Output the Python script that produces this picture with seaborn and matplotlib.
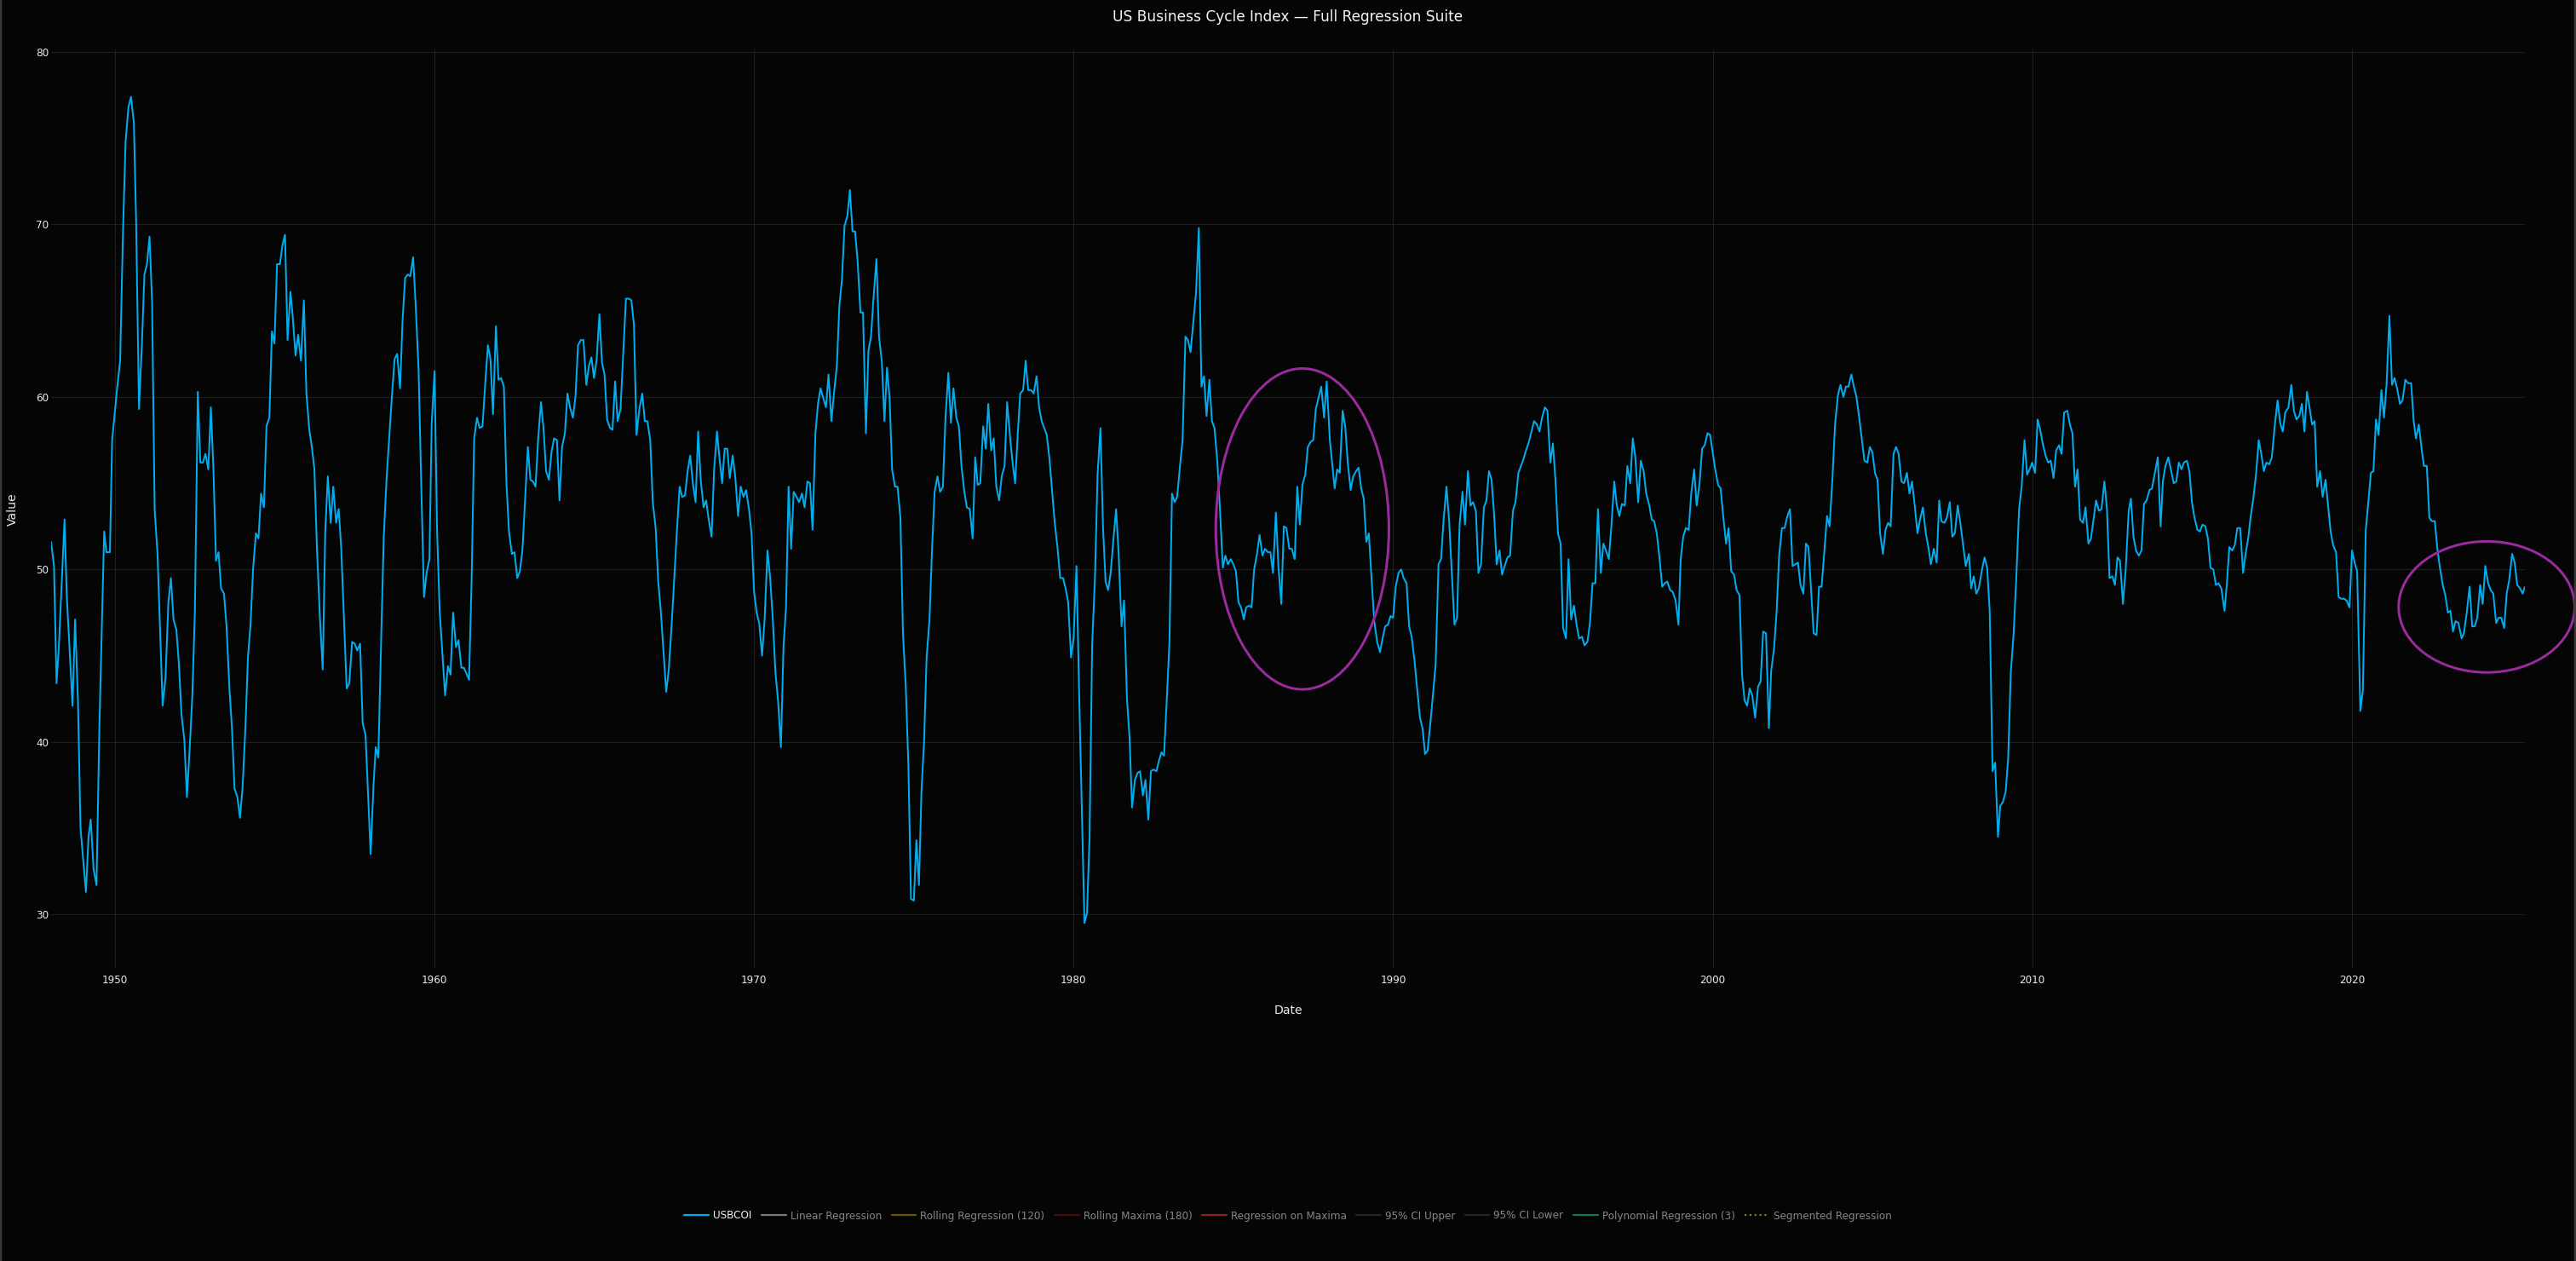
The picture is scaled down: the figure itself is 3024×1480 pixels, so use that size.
import numpy as np
import pandas as pd
import matplotlib
matplotlib.use("Agg")
import matplotlib.pyplot as plt
import matplotlib.dates as mdates
from matplotlib.lines import Line2D
from matplotlib.patches import Ellipse
from matplotlib.ticker import MultipleLocator
import seaborn as sns

# USBCOI monthly series (decimal year, value)
yr_1948 = [1948.00, 1948.09, 1948.17, 1948.24, 1948.42, 1948.49, 1948.67, 1948.75, 1948.84, 1948.92,
           1949.09, 1949.17, 1949.24, 1949.33, 1949.42, 1949.51, 1949.66, 1949.73, 1949.84, 1949.91,
           1950.06, 1950.16, 1950.25, 1950.33, 1950.42, 1950.50, 1950.59, 1950.66, 1950.75, 1950.84,
           1950.92, 1951.00, 1951.08, 1951.16, 1951.24, 1951.33, 1951.49, 1951.58, 1951.67, 1951.75,
           1951.83, 1951.92, 1952.00, 1952.08, 1952.17, 1952.25, 1952.33, 1952.42, 1952.50, 1952.59,
           1952.67, 1952.75, 1952.83, 1952.92, 1953.00, 1953.08, 1953.16, 1953.24, 1953.32, 1953.41,
           1953.49, 1953.58, 1953.66, 1953.74, 1953.83, 1953.91, 1953.99, 1954.08, 1954.16, 1954.24,
           1954.32, 1954.41, 1954.49, 1954.57, 1954.66, 1954.74, 1954.83, 1954.91, 1954.99, 1955.07,
           1955.16, 1955.24, 1955.32, 1955.40, 1955.49, 1955.56, 1955.65, 1955.73, 1955.82, 1955.91,
           1955.99, 1956.08, 1956.16, 1956.24, 1956.32, 1956.41, 1956.50, 1956.58, 1956.66, 1956.75,
           1956.83, 1956.92, 1957.00, 1957.08, 1957.25, 1957.33, 1957.42, 1957.50, 1957.58, 1957.67,
           1957.75, 1957.84]
val_1948 = [51.6, 50.2, 43.4, 45.4, 52.9, 48.5, 42.1, 47.1, 42.4, 35.0,
            31.3, 34.5, 35.5, 32.6, 31.7, 40.8, 52.2, 51.0, 51.0, 57.5,
            60.4, 62.1, 69.6, 74.8, 76.8, 77.4, 75.9, 70.2, 59.3, 63.0,
            67.1, 67.7, 69.3, 65.5, 53.5, 50.9, 42.1, 43.7, 48.1, 49.5,
            47.1, 46.5, 44.5, 41.6, 40.1, 36.8, 39.4, 42.7, 47.6, 60.3,
            56.2, 56.2, 56.7, 55.8, 59.4, 55.8, 50.5, 51.0, 48.9, 48.6,
            46.7, 43.1, 40.8, 37.3, 36.8, 35.6, 37.3, 40.8, 44.9, 46.8,
            50.0, 52.1, 51.8, 54.4, 53.6, 58.3, 58.8, 63.8, 63.1, 67.7,
            67.7, 68.8, 69.4, 63.3, 66.1, 64.7, 62.4, 63.6, 62.1, 65.6,
            60.2, 58.1, 57.1, 55.8, 51.2, 47.3, 44.2, 52.2, 55.4, 52.7,
            54.8, 52.7, 53.5, 51.2, 43.1, 43.4, 45.8, 45.7, 45.3, 45.7,
            41.1, 40.4]

yr_1958 = [1958.00, 1958.09, 1958.16, 1958.24, 1958.33, 1958.41, 1958.50, 1958.58, 1958.66, 1958.75,
           1958.83, 1958.92, 1959.00, 1959.08, 1959.16, 1959.24, 1959.33, 1959.41, 1959.50, 1959.58,
           1959.67, 1959.75, 1959.84, 1959.91, 1960.00, 1960.08, 1960.16, 1960.25, 1960.33, 1960.42,
           1960.50, 1960.58, 1960.67, 1960.75, 1960.84, 1960.92, 1961.08, 1961.16, 1961.24, 1961.33,
           1961.41, 1961.50, 1961.58, 1961.67, 1961.75, 1961.83, 1961.92, 1962.00, 1962.08, 1962.17,
           1962.25, 1962.33, 1962.42, 1962.50, 1962.59, 1962.67, 1962.75, 1962.83, 1962.92, 1963.00,
           1963.08, 1963.16, 1963.24, 1963.33, 1963.41, 1963.49, 1963.58, 1963.66, 1963.74, 1963.83,
           1963.91, 1963.99, 1964.08, 1964.16, 1964.24, 1964.33, 1964.41, 1964.49, 1964.58, 1964.66,
           1964.75, 1964.83, 1964.91, 1964.99, 1965.07, 1965.16, 1965.24, 1965.32, 1965.40, 1965.49,
           1965.57, 1965.65, 1965.73, 1965.82, 1965.91, 1965.99, 1966.08, 1966.16, 1966.24, 1966.32,
           1966.41, 1966.50, 1966.58, 1966.66, 1966.75, 1966.83, 1966.92, 1967.00, 1967.08, 1967.25,
           1967.33, 1967.42, 1967.50, 1967.58, 1967.67, 1967.75, 1967.84, 1967.92]
val_1958 = [33.5, 37.5, 39.7, 39.1, 46.0, 51.9, 55.3, 57.6, 59.9, 62.2,
            62.5, 60.5, 64.5, 66.9, 67.1, 67.0, 68.1, 65.3, 61.6, 55.2,
            48.4, 49.8, 50.6, 58.4, 61.5, 52.2, 47.6, 45.0, 42.7, 44.4,
            43.9, 47.5, 45.5, 45.9, 44.3, 44.3, 43.6, 49.4, 57.6, 58.8,
            58.2, 58.3, 60.6, 63.0, 62.2, 59.0, 64.1, 61.0, 61.1, 60.6,
            55.0, 52.2, 50.9, 51.0, 49.5, 49.9, 51.1, 53.9, 57.1, 55.2,
            55.1, 54.8, 57.5, 59.7, 58.2, 55.7, 55.2, 56.8, 57.6, 57.5,
            54.0, 57.1, 57.9, 60.2, 59.4, 58.8, 60.0, 63.0, 63.3, 63.3,
            60.7, 61.8, 62.3, 61.1, 62.1, 64.8, 62.0, 61.3, 58.7, 58.2,
            58.1, 60.9, 58.6, 59.3, 62.7, 65.7, 65.7, 65.6, 64.2, 57.8,
            59.3, 60.2, 58.6, 58.6, 57.5, 53.9, 52.4, 49.3, 47.6, 42.9,
            44.2, 46.8, 49.4, 52.1, 54.8, 54.2, 54.3, 55.7]

yr_1968 = [1968.00, 1968.09, 1968.17, 1968.25, 1968.33, 1968.42, 1968.50, 1968.58, 1968.67, 1968.75,
           1968.84, 1968.92, 1969.00, 1969.08, 1969.16, 1969.24, 1969.33, 1969.41, 1969.50, 1969.58,
           1969.67, 1969.75, 1969.84, 1969.92, 1970.00, 1970.08, 1970.16, 1970.25, 1970.33, 1970.42,
           1970.50, 1970.58, 1970.67, 1970.75, 1970.84, 1970.92, 1971.00, 1971.08, 1971.16, 1971.24,
           1971.33, 1971.41, 1971.50, 1971.58, 1971.67, 1971.75, 1971.83, 1971.92, 1972.00, 1972.08,
           1972.17, 1972.25, 1972.33, 1972.42, 1972.50, 1972.59, 1972.67, 1972.75, 1972.83, 1972.92,
           1973.00, 1973.08, 1973.16, 1973.24, 1973.33, 1973.41, 1973.50, 1973.58, 1973.66, 1973.74,
           1973.83, 1973.91, 1974.00, 1974.08, 1974.16, 1974.24, 1974.32, 1974.41, 1974.49, 1974.58,
           1974.66, 1974.75, 1974.83, 1974.91, 1975.00, 1975.08, 1975.16, 1975.24, 1975.32, 1975.40,
           1975.49, 1975.57, 1975.65, 1975.74, 1975.82, 1975.91, 1975.99, 1976.08, 1976.16, 1976.24,
           1976.33, 1976.41, 1976.49, 1976.58, 1976.66, 1976.75, 1976.84, 1976.92, 1977.00, 1977.08,
           1977.17, 1977.25, 1977.33, 1977.42, 1977.50, 1977.58, 1977.67, 1977.75, 1977.84, 1977.92]
val_1968 = [56.6, 54.9, 53.9, 58.0, 55.2, 53.6, 54.0, 52.9, 51.9, 55.8,
            58.0, 56.4, 55.0, 57.0, 57.0, 55.3, 56.6, 55.4, 53.1, 54.8,
            54.2, 54.6, 53.5, 52.1, 48.7, 47.5, 46.9, 45.0, 47.1, 51.1,
            49.6, 47.3, 44.0, 42.4, 39.7, 45.5, 47.8, 54.8, 51.2, 54.5,
            54.2, 53.9, 54.4, 53.6, 55.1, 55.0, 52.3, 57.9, 59.6, 60.5,
            59.9, 59.4, 61.3, 58.6, 60.2, 61.8, 65.3, 66.8, 69.9, 70.5,
            72.0, 69.6, 69.6, 67.9, 64.9, 64.9, 57.9, 62.7, 63.5, 65.8,
            68.0, 63.5, 62.0, 58.6, 61.7, 60.0, 55.8, 54.8, 54.8, 53.0,
            46.3, 43.1, 38.6, 30.9, 30.8, 34.3, 31.7, 37.2, 40.0, 44.9,
            47.1, 51.2, 54.5, 55.4, 54.5, 54.8, 58.8, 61.4, 58.5, 60.5,
            58.8, 58.3, 56.0, 54.5, 53.6, 53.5, 51.8, 56.5, 54.9, 55.0,
            58.3, 57.0, 59.6, 56.9, 57.6, 54.8, 54.0, 55.4, 56.0, 59.7]

yr_1978 = [1978.02, 1978.09, 1978.17, 1978.25, 1978.33, 1978.42, 1978.50, 1978.58, 1978.67, 1978.75,
           1978.84, 1978.92, 1979.00, 1979.08, 1979.16, 1979.24, 1979.33, 1979.41, 1979.50, 1979.58,
           1979.67, 1979.75, 1979.83, 1979.92, 1980.00, 1980.09, 1980.17, 1980.25, 1980.34, 1980.42,
           1980.50, 1980.58, 1980.67, 1980.75, 1980.84, 1980.92, 1981.00, 1981.08, 1981.16, 1981.24,
           1981.33, 1981.41, 1981.50, 1981.58, 1981.67, 1981.75, 1981.83, 1981.92, 1982.00, 1982.08,
           1982.17, 1982.25, 1982.34, 1982.42, 1982.50, 1982.59, 1982.67, 1982.75, 1982.83, 1982.92,
           1983.00, 1983.08, 1983.16, 1983.24, 1983.33, 1983.41, 1983.50, 1983.58, 1983.66, 1983.75,
           1983.83, 1983.92, 1984.00, 1984.08, 1984.16, 1984.25, 1984.33, 1984.41, 1984.50, 1984.58,
           1984.67, 1984.75, 1984.83, 1984.92, 1985.00, 1985.08, 1985.16, 1985.24, 1985.33, 1985.40,
           1985.49, 1985.57, 1985.65, 1985.74, 1985.82, 1985.91, 1985.99, 1986.08, 1986.16, 1986.24,
           1986.33, 1986.41, 1986.50, 1986.58, 1986.66, 1986.75, 1986.83, 1986.92, 1987.00, 1987.08,
           1987.16, 1987.25, 1987.33, 1987.42, 1987.50, 1987.58, 1987.67, 1987.75, 1987.84, 1987.92]
val_1978 = [57.5, 56.2, 55.0, 57.8, 60.2, 60.4, 62.1, 60.4, 60.4, 60.2,
            61.2, 59.4, 58.6, 58.2, 57.8, 56.5, 54.5, 52.7, 51.2, 49.5,
            49.5, 48.9, 48.1, 44.9, 46.0, 50.2, 43.1, 36.6, 29.5, 30.1,
            34.5, 45.6, 49.6, 55.5, 58.2, 52.5, 49.3, 48.8, 49.8, 51.6,
            53.5, 50.9, 46.7, 48.2, 42.5, 40.3, 36.2, 37.8, 38.2, 38.3,
            36.9, 37.8, 35.5, 38.3, 38.4, 38.3, 38.9, 39.4, 39.2, 42.6,
            45.8, 54.4, 53.9, 54.2, 56.0, 57.5, 63.5, 63.3, 62.6, 64.4,
            66.0, 69.8, 60.6, 61.2, 58.9, 61.0, 58.6, 58.2, 56.2, 53.5,
            50.1, 50.8, 50.3, 50.6, 50.3, 49.9, 48.1, 47.8, 47.1, 47.8,
            47.9, 47.8, 50.0, 50.9, 52.0, 50.8, 51.2, 51.0, 51.0, 49.8,
            53.3, 50.2, 48.0, 52.5, 52.4, 51.2, 51.2, 50.6, 54.8, 52.6,
            54.9, 55.5, 57.1, 57.4, 57.5, 59.3, 60.0, 60.6, 58.8, 60.9]

yr_1988 = [1988.02, 1988.09, 1988.17, 1988.25, 1988.33, 1988.42, 1988.50, 1988.58, 1988.67, 1988.75,
           1988.84, 1988.92, 1989.00, 1989.08, 1989.16, 1989.24, 1989.33, 1989.41, 1989.50, 1989.59,
           1989.67, 1989.75, 1989.84, 1989.92, 1990.00, 1990.08, 1990.17, 1990.25, 1990.33, 1990.42,
           1990.50, 1990.58, 1990.67, 1990.75, 1990.84, 1990.92, 1991.00, 1991.08, 1991.16, 1991.24,
           1991.33, 1991.42, 1991.50, 1991.58, 1991.67, 1991.75, 1991.83, 1991.92, 1992.00, 1992.08,
           1992.17, 1992.25, 1992.34, 1992.42, 1992.50, 1992.59, 1992.67, 1992.75, 1992.84, 1992.92,
           1993.00, 1993.08, 1993.16, 1993.24, 1993.33, 1993.41, 1993.49, 1993.58, 1993.66, 1993.75,
           1993.83, 1993.92, 1994.00, 1994.08, 1994.16, 1994.25, 1994.33, 1994.41, 1994.50, 1994.58,
           1994.66, 1994.75, 1994.83, 1994.92, 1995.00, 1995.08, 1995.16, 1995.24, 1995.32, 1995.41,
           1995.49, 1995.57, 1995.66, 1995.74, 1995.82, 1995.91, 1995.99, 1996.08, 1996.16, 1996.24,
           1996.33, 1996.41, 1996.50, 1996.58, 1996.66, 1996.75, 1996.83, 1996.92, 1997.00, 1997.08,
           1997.16, 1997.25, 1997.33, 1997.42, 1997.50, 1997.58, 1997.67, 1997.75, 1997.84, 1997.92]
val_1988 = [57.5, 56.2, 54.7, 55.8, 55.6, 59.2, 58.3, 56.2, 54.6, 55.4,
            55.7, 55.9, 54.7, 54.1, 51.6, 52.1, 49.3, 47.0, 45.8, 45.2,
            46.0, 46.7, 46.8, 47.3, 47.2, 49.0, 49.8, 50.0, 49.5, 49.2,
            46.7, 46.1, 44.7, 43.1, 41.4, 40.8, 39.3, 39.5, 41.0, 42.6,
            44.5, 50.3, 50.6, 52.9, 54.8, 52.9, 50.0, 46.8, 47.2, 52.6,
            54.5, 52.6, 55.7, 53.7, 53.9, 53.4, 49.8, 50.3, 53.6, 54.0,
            55.7, 55.2, 53.2, 50.3, 51.1, 49.7, 50.2, 50.7, 50.8, 53.4,
            53.9, 55.6, 56.0, 56.4, 56.9, 57.4, 58.0, 58.6, 58.4, 58.0,
            58.8, 59.4, 59.2, 56.2, 57.3, 55.2, 52.1, 51.5, 46.6, 46.0,
            50.6, 47.1, 47.9, 46.8, 46.0, 46.1, 45.6, 45.8, 46.9, 49.2,
            49.2, 53.5, 49.8, 51.5, 51.1, 50.6, 52.5, 55.1, 53.7, 53.1,
            53.8, 53.7, 56.0, 55.0, 57.6, 56.5, 53.9, 56.3, 55.7, 54.4]

yr_1998 = [1998.02, 1998.09, 1998.17, 1998.25, 1998.33, 1998.42, 1998.50, 1998.58, 1998.67, 1998.75,
           1998.84, 1998.93, 1999.00, 1999.08, 1999.16, 1999.25, 1999.33, 1999.42, 1999.50, 1999.59,
           1999.67, 1999.75, 1999.84, 1999.92, 2000.00, 2000.08, 2000.17, 2000.25, 2000.33, 2000.42,
           2000.50, 2000.58, 2000.67, 2000.75, 2000.84, 2000.92, 2001.00, 2001.08, 2001.16, 2001.24,
           2001.33, 2001.42, 2001.50, 2001.58, 2001.67, 2001.76, 2001.83, 2001.92, 2002.00, 2002.08,
           2002.17, 2002.25, 2002.34, 2002.42, 2002.50, 2002.59, 2002.67, 2002.75, 2002.84, 2002.92,
           2003.00, 2003.08, 2003.16, 2003.25, 2003.33, 2003.41, 2003.49, 2003.58, 2003.66, 2003.75,
           2003.83, 2003.92, 2004.00, 2004.09, 2004.17, 2004.25, 2004.34, 2004.42, 2004.50, 2004.58,
           2004.67, 2004.75, 2004.84, 2004.92, 2005.00, 2005.08, 2005.16, 2005.24, 2005.33, 2005.41,
           2005.49, 2005.57, 2005.66, 2005.74, 2005.82, 2005.91, 2005.99, 2006.08, 2006.16, 2006.24,
           2006.33, 2006.41, 2006.49, 2006.58, 2006.67, 2006.75, 2006.83, 2006.92, 2007.01, 2007.09,
           2007.16, 2007.25, 2007.33, 2007.42, 2007.50, 2007.58, 2007.67, 2007.75, 2007.84, 2007.92]
val_1998 = [53.7, 52.9, 52.8, 52.1, 50.8, 49.0, 49.2, 49.3, 48.8, 48.7,
            48.2, 46.8, 50.6, 51.9, 52.4, 52.3, 54.4, 55.8, 53.7, 55.0,
            57.0, 57.2, 57.9, 57.8, 56.8, 55.8, 54.9, 54.7, 53.1, 51.5,
            52.4, 49.9, 49.7, 48.8, 48.5, 43.9, 42.4, 42.1, 43.1, 42.7,
            41.4, 43.2, 43.5, 46.4, 46.3, 40.8, 44.1, 45.4, 47.5, 50.8,
            52.4, 52.4, 53.1, 53.5, 50.2, 50.3, 50.4, 49.1, 48.6, 51.5,
            51.3, 48.8, 46.3, 46.2, 49.0, 49.0, 50.9, 53.1, 52.5, 55.3,
            58.4, 60.1, 60.7, 60.0, 60.6, 60.6, 61.3, 60.6, 60.0, 58.9,
            57.5, 56.3, 56.2, 57.1, 56.8, 55.6, 55.2, 52.1, 50.9, 52.3,
            52.7, 52.5, 56.7, 57.1, 56.7, 55.1, 55.0, 55.6, 54.4, 55.1,
            53.6, 52.1, 52.9, 53.6, 52.1, 51.3, 50.3, 51.2, 50.4, 54.0,
            52.8, 52.7, 53.0, 53.9, 51.9, 52.1, 53.7, 52.7, 51.4, 50.2]

yr_2008 = [2008.02, 2008.09, 2008.17, 2008.25, 2008.33, 2008.42, 2008.51, 2008.59, 2008.67, 2008.76,
           2008.84, 2008.93, 2009.00, 2009.08, 2009.17, 2009.25, 2009.33, 2009.42, 2009.50, 2009.59,
           2009.67, 2009.76, 2009.84, 2009.92, 2010.00, 2010.09, 2010.17, 2010.25, 2010.33, 2010.42,
           2010.50, 2010.58, 2010.67, 2010.75, 2010.84, 2010.92, 2011.00, 2011.10, 2011.18, 2011.26,
           2011.34, 2011.42, 2011.50, 2011.59, 2011.67, 2011.76, 2011.84, 2012.00, 2012.09, 2012.17,
           2012.26, 2012.34, 2012.42, 2012.51, 2012.59, 2012.67, 2012.75, 2012.84, 2012.93, 2013.02,
           2013.09, 2013.17, 2013.25, 2013.34, 2013.42, 2013.50, 2013.58, 2013.67, 2013.75, 2013.83,
           2013.93, 2014.02, 2014.09, 2014.17, 2014.26, 2014.34, 2014.43, 2014.51, 2014.59, 2014.67,
           2014.75, 2014.84, 2014.92, 2015.00, 2015.08, 2015.17, 2015.25, 2015.33, 2015.42, 2015.50,
           2015.58, 2015.67, 2015.75, 2015.83, 2015.92, 2016.02, 2016.09, 2016.17, 2016.26, 2016.34,
           2016.42, 2016.51, 2016.60, 2016.67, 2016.76, 2016.84, 2016.92, 2017.01, 2017.09, 2017.17,
           2017.25, 2017.33, 2017.42, 2017.50, 2017.59, 2017.68, 2017.76, 2017.84, 2017.92]
val_2008 = [50.9, 48.9, 49.6, 48.6, 48.9, 49.9, 50.7, 50.1, 47.6, 38.3,
            38.8, 34.5, 36.3, 36.5, 37.1, 39.1, 44.0, 46.3, 49.4, 53.5,
            54.8, 57.5, 55.5, 55.8, 56.2, 55.6, 58.7, 58.1, 57.3, 56.6,
            56.2, 56.3, 55.3, 56.9, 57.2, 56.7, 59.1, 59.2, 58.4, 57.9,
            54.8, 55.8, 52.9, 52.7, 53.6, 51.5, 51.8, 54.0, 53.4, 53.5,
            55.1, 53.5, 49.5, 49.6, 49.1, 50.7, 50.5, 48.0, 50.1, 53.4,
            54.1, 51.9, 51.1, 50.8, 51.1, 53.8, 54.0, 54.6, 54.7, 55.5,
            56.5, 52.5, 55.1, 56.0, 56.5, 55.8, 55.0, 55.1, 56.2, 55.8,
            56.2, 56.3, 55.7, 53.9, 53.0, 52.3, 52.2, 52.6, 52.5, 51.8,
            50.1, 50.0, 49.1, 49.2, 48.9, 47.6, 49.1, 51.3, 51.1, 51.4,
            52.4, 52.4, 49.8, 50.8, 51.8, 53.1, 54.1, 55.6, 57.5, 56.7,
            55.7, 56.2, 56.1, 56.5, 58.3, 59.8, 58.5, 58.0, 59.1]

yr_2018 = [2018.02, 2018.11, 2018.19, 2018.27, 2018.36, 2018.44, 2018.52, 2018.60, 2018.68, 2018.76,
           2018.84, 2018.92, 2019.01, 2019.09, 2019.18, 2019.26, 2019.34, 2019.42, 2019.51, 2019.59,
           2019.67, 2019.76, 2019.84, 2019.93, 2020.01, 2020.09, 2020.17, 2020.27, 2020.35, 2020.44,
           2020.52, 2020.60, 2020.68, 2020.76, 2020.84, 2020.93, 2021.01, 2021.09, 2021.18, 2021.26,
           2021.34, 2021.42, 2021.51, 2021.59, 2021.68, 2021.76, 2021.86, 2021.94, 2022.01, 2022.10,
           2022.18, 2022.26, 2022.35, 2022.43, 2022.51, 2022.60, 2022.68, 2022.76, 2022.85, 2022.93,
           2023.01, 2023.09, 2023.17, 2023.25, 2023.34, 2023.44, 2023.51, 2023.60, 2023.69, 2023.77,
           2023.85, 2023.93, 2024.02, 2024.10, 2024.18, 2024.27, 2024.35, 2024.43, 2024.52, 2024.60,
           2024.68, 2024.77, 2024.85, 2024.93, 2025.02, 2025.10, 2025.18, 2025.27, 2025.35, 2025.42]
val_2018 = [59.4, 60.7, 59.2, 58.7, 58.9, 59.6, 58.0, 60.3, 59.4, 58.4,
            58.6, 54.8, 55.7, 54.2, 55.2, 53.7, 52.2, 51.4, 51.0, 48.4,
            48.3, 48.3, 48.2, 47.8, 51.1, 50.4, 49.9, 41.8, 43.0, 52.3,
            53.9, 55.6, 55.7, 58.7, 57.8, 60.4, 58.8, 60.7, 64.7, 60.7,
            61.1, 60.5, 59.6, 59.8, 61.0, 60.8, 60.8, 58.6, 57.6, 58.4,
            57.1, 56.0, 56.0, 53.0, 52.8, 52.8, 51.2, 50.1, 49.1, 48.5,
            47.5, 47.6, 46.4, 47.0, 46.9, 46.0, 46.3, 47.5, 49.0, 46.7,
            46.7, 47.2, 49.1, 48.0, 50.2, 49.2, 48.8, 48.6, 46.9, 47.2,
            47.2, 46.6, 48.6, 49.4, 50.9, 50.4, 49.1, 48.9, 48.6, 49.0]

# legend entries (the regression traces are hidden in the original, legend only)
series_names = ["USBCOI", "Linear Regression", "Rolling Regression (120)", "Rolling Maxima (180)",
                "Regression on Maxima", "95% CI Upper", "95% CI Lower",
                "Polynomial Regression (3)", "Segmented Regression"]

# highlight ellipses: (x0, x1, y0, y1) bounding boxes in data units
highlight_boxes = [("1984-06-13", "1989-11-13", 43.05, 61.65),
                   ("2021-06-20", "2026-12-24", 44.03, 51.63)]

BG = "#050505"
GRID = "#1f1f1f"
TXT = "#eaeaea"
LINE_COLOR = "#00adef"
PURPLE = "#9a2a9e"
PX = 0.72  # points per pixel at dpi=100

# legend sample styles for each trace (faded like plotly legendonly items)
legend_styles = [
    (LINE_COLOR, "-"), ("#7b7b7b", "-"), ("#6e5208", "-"), ("#4a0b0b", "-"),
    ("#8c1f1f", "-"), ("#262626", "-"), ("#262626", "-"), ("#0b7856", "-"),
    ("#80801f", ":"),
]


def to_dates(years):
    years = np.asarray(years, dtype=float)
    return pd.Timestamp("1948-01-01") + pd.to_timedelta((years - 1948.0) * 365.2425, unit="D")


segments = [(yr_1948, val_1948), (yr_1958, val_1958), (yr_1968, val_1968), (yr_1978, val_1978),
            (yr_1988, val_1988), (yr_1998, val_1998), (yr_2008, val_2008), (yr_2018, val_2018)]
df = pd.concat([pd.DataFrame({"date": to_dates(y), "value": v}) for y, v in segments],
               ignore_index=True)

sns.set_theme(style="darkgrid", rc={
    "figure.facecolor": BG,
    "axes.facecolor": BG,
    "grid.color": GRID,
    "grid.linewidth": 1 * PX,
    "axes.edgecolor": BG,
    "xtick.color": TXT,
    "ytick.color": TXT,
    "text.color": TXT,
    "axes.labelcolor": TXT,
})
plt.rcParams["font.family"] = ["DejaVu Sans"]

fig = plt.figure(figsize=(30.24, 14.8), dpi=100)
ax = fig.add_axes([60 / 3024, 1 - 1137 / 1480, 2904 / 3024, 1079 / 1480])

sns.lineplot(data=df, x="date", y="value", color=LINE_COLOR, linewidth=2 * PX,
             errorbar=None, ax=ax)

ax.set_xlim(df["date"].iloc[0], df["date"].iloc[-1])
ax.set_ylim(26.85, 80.15)
ax.yaxis.set_major_locator(MultipleLocator(10))
ax.xaxis.set_major_locator(mdates.YearLocator(10))
ax.xaxis.set_major_formatter(mdates.DateFormatter("%Y"))
ax.tick_params(axis="both", length=0, labelsize=12 * PX)
ax.tick_params(axis="x", pad=7 * PX)
ax.tick_params(axis="y", pad=3 * PX)
for s in ax.spines.values():
    s.set_visible(False)

ax.set_xlabel("Date", fontsize=14 * PX, color=TXT, va="center")
ax.set_ylabel("Value", fontsize=14 * PX, color=TXT, va="center")
ax.xaxis.set_label_coords(0.5, -49 / 1079)
ax.yaxis.set_label_coords(-45 / 2904, 0.5)

fig.text(0.5, 1 - 20 / 1480, "US Business Cycle Index \u2014 Full Regression Suite",
         ha="center", va="center", fontsize=17 * PX, color="#f4f4f4")

# highlight ellipses
for x0, x1, y0, y1 in highlight_boxes:
    n0 = mdates.date2num(pd.Timestamp(x0))
    n1 = mdates.date2num(pd.Timestamp(x1))
    ell = Ellipse(((n0 + n1) / 2, (y0 + y1) / 2), n1 - n0, y1 - y0,
                  fill=False, edgecolor=PURPLE, linewidth=3 * PX, clip_on=False, zorder=5)
    ax.add_patch(ell)

# legend
handles = [Line2D([], [], color=c, linestyle=ls, linewidth=2.2 * PX) for c, ls in legend_styles]
leg = fig.legend(handles, series_names, loc="center", bbox_to_anchor=(0.5, 1 - 1427 / 1480),
                 ncol=len(series_names), frameon=False, fontsize=12 * PX,
                 handlelength=2.4, handletextpad=0.42, columnspacing=0.95)
for i, t in enumerate(leg.get_texts()):
    t.set_color("#f2f2f2" if i == 0 else "#868686")

# thin grey frame edges on the left and right of the image
fig.add_artist(Line2D([1 / 3024, 1 / 3024], [0, 1], transform=fig.transFigure,
                      color="#3a3a3a", linewidth=2.5 * PX))
fig.add_artist(Line2D([3023 / 3024, 3023 / 3024], [0, 1], transform=fig.transFigure,
                      color="#3a3a3a", linewidth=2.5 * PX))

fig.savefig("out.png", dpi=100, facecolor=BG)
